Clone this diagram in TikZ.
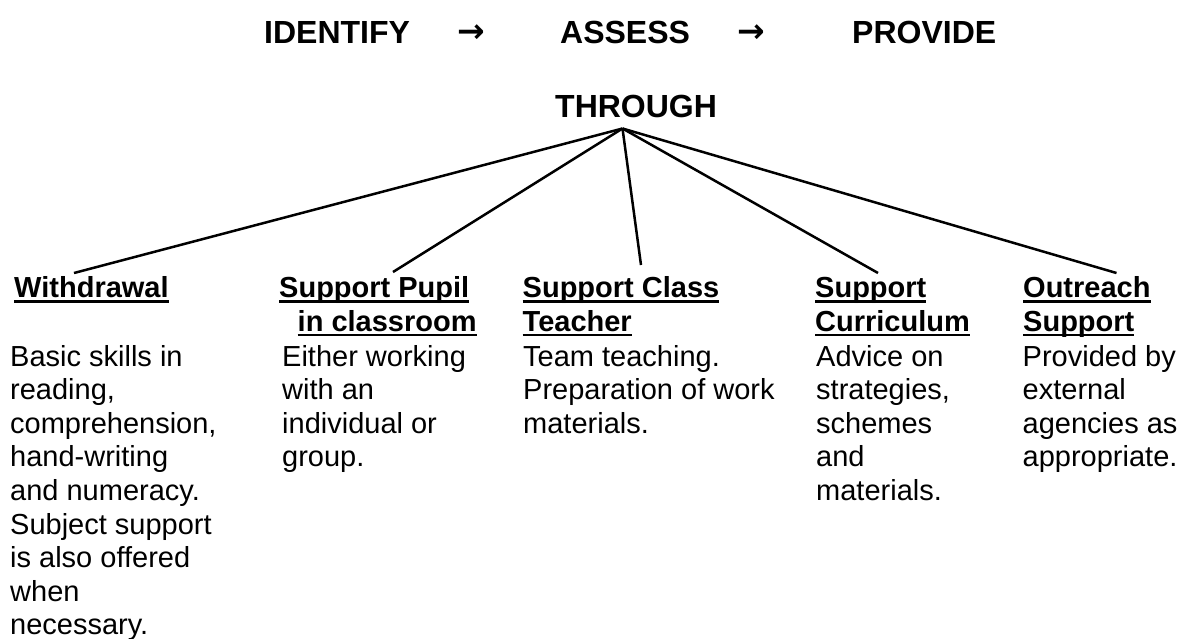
\documentclass[tikz,border=0pt]{standalone}
\usepackage{fontspec}
\setmainfont{Liberation Sans}
\newfontfamily\arrowfont{DejaVu Sans}
\newcommand\myul[1]{\setbox0\hbox{#1}\leavevmode\rlap{\rule[-5pt]{\wd0}{2.3pt}}\box0}
\begin{document}
\begin{tikzpicture}[x=1pt,y=-1pt,
  title/.style={font=\fontsize{32}{38}\selectfont\bfseries, inner sep=0pt, anchor=base west},
  arr/.style={font=\arrowfont\fontsize{33}{38}\selectfont\bfseries, inner sep=0pt, anchor=base},
  head/.style={font=\fontsize{29}{33.5}\selectfont\bfseries, inner sep=0pt, anchor=base west},
  body/.style={font=\fontsize{29}{33.6}\selectfont, inner sep=0pt, anchor=base west},
  link/.style={line width=2.5pt}]
\useasboundingbox (0,0) rectangle (1181,638);
% title row
\node[title] (identify) at (264,43) {IDENTIFY};
\node[arr] (arrA) at (471.5,42.5) {→};
\node[title] (assess) at (560,43) {ASSESS};
\node[arr] (arrB) at (751.5,42.5) {→};
\node[title] (provide) at (852,43) {PROVIDE};
\node[title] (through) at (555,117) {THROUGH};
% headers
\node[head] (h1) at (14,297.5) {\vtop{\hbox{\myul{Withdrawal}}}};
\node[head] (h2) at (279,297.5) {\vtop{\hbox{\myul{Support Pupil}}\hbox{\hspace*{18.5pt}\myul{in classroom}}}};
\node[head] (h3) at (522.5,297.5) {\vtop{\hbox{\myul{Support Class}}\hbox{\myul{Teacher}}}};
\node[head] (h4) at (815,297.5) {\vtop{\hbox{\myul{Support}}\hbox{\myul{Curriculum}}}};
\node[head] (h5) at (1023,297.5) {\vtop{\hbox{\myul{Outreach}}\hbox{\myul{Support}}}};
% bodies
\node[body] (b1) at (10,366) {\vtop{\hbox{Basic skills in}\hbox{reading,}\hbox{comprehension,}\hbox{hand-writing}\hbox{and numeracy.}\hbox{Subject support}\hbox{is also offered}\hbox{when}\hbox{necessary.}}};
\node[body] (b2) at (282,366) {\vtop{\hbox{Either working}\hbox{with an}\hbox{individual or}\hbox{group.}}};
\node[body] (b3) at (523,366) {\vtop{\hbox{Team teaching.}\hbox{Preparation of work}\hbox{materials.}}};
\node[body] (b4) at (816,366) {\vtop{\hbox{Advice on}\hbox{strategies,}\hbox{schemes}\hbox{and}\hbox{materials.}}};
\node[body] (b5) at (1022.5,366) {\vtop{\hbox{Provided by}\hbox{external}\hbox{agencies as}\hbox{appropriate.}}};
% connectors
\coordinate (apex) at (622.5,128.5);
\coordinate (e1) at (74,273);
\coordinate (e2) at (393,272);
\coordinate (e3) at (641,265);
\coordinate (e4) at (878,273);
\coordinate (e5) at (1116.5,273);
\draw[link] (apex) -- (e1);
\draw[link] (apex) -- (e2);
\draw[link] (apex) -- (e3);
\draw[link] (apex) -- (e4);
\draw[link] (apex) -- (e5);
\end{tikzpicture}
\end{document}
